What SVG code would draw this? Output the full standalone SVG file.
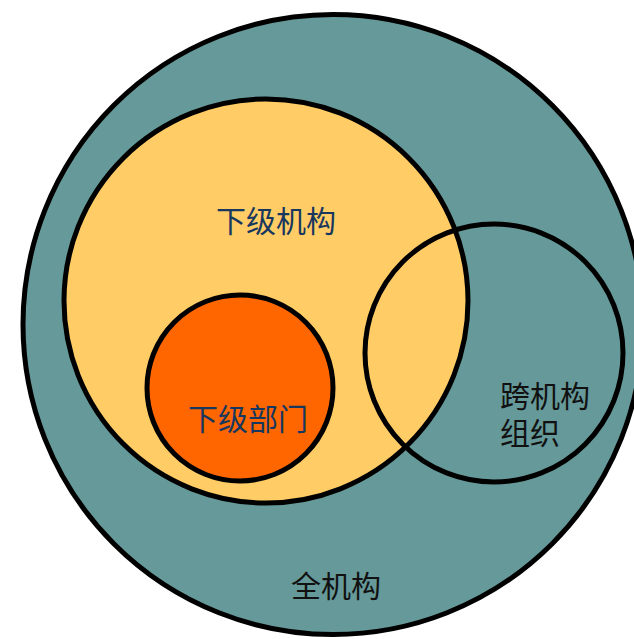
<svg xmlns="http://www.w3.org/2000/svg" width="634" height="639" viewBox="0 0 634 639">
  <style>
    .ring { stroke: #000000; stroke-width: 5; }
    .lbl { font-family: "Noto Sans CJK SC", "Noto Sans", sans-serif; font-size: 30px; }
    .blue { fill: #17375E; }
    .black { fill: #111111; }
  </style>
  <rect x="0" y="0" width="634" height="639" fill="#FFFFFF"/>
  <g id="all-org">
    <circle class="ring" cx="333" cy="324.5" r="310" fill="#669999"/>
    <text class="lbl black" x="336" y="597" text-anchor="middle">全机构</text>
  </g>
  <g id="sub-org">
    <circle class="ring" cx="266" cy="301" r="202" fill="#FFCC66"/>
    <text class="lbl blue" x="276" y="232" text-anchor="middle">下级机构</text>
  </g>
  <g id="sub-dept">
    <circle class="ring" cx="240" cy="388" r="93" fill="#FF6600"/>
    <text class="lbl blue" x="248" y="430" text-anchor="middle">下级部门</text>
  </g>
  <g id="cross-org">
    <circle class="ring" cx="494" cy="353" r="129" fill="none"/>
    <text class="lbl black" x="500" y="407">跨机构</text>
    <text class="lbl black" x="500" y="444">组织</text>
  </g>
  <g id="connectors"></g>
</svg>
